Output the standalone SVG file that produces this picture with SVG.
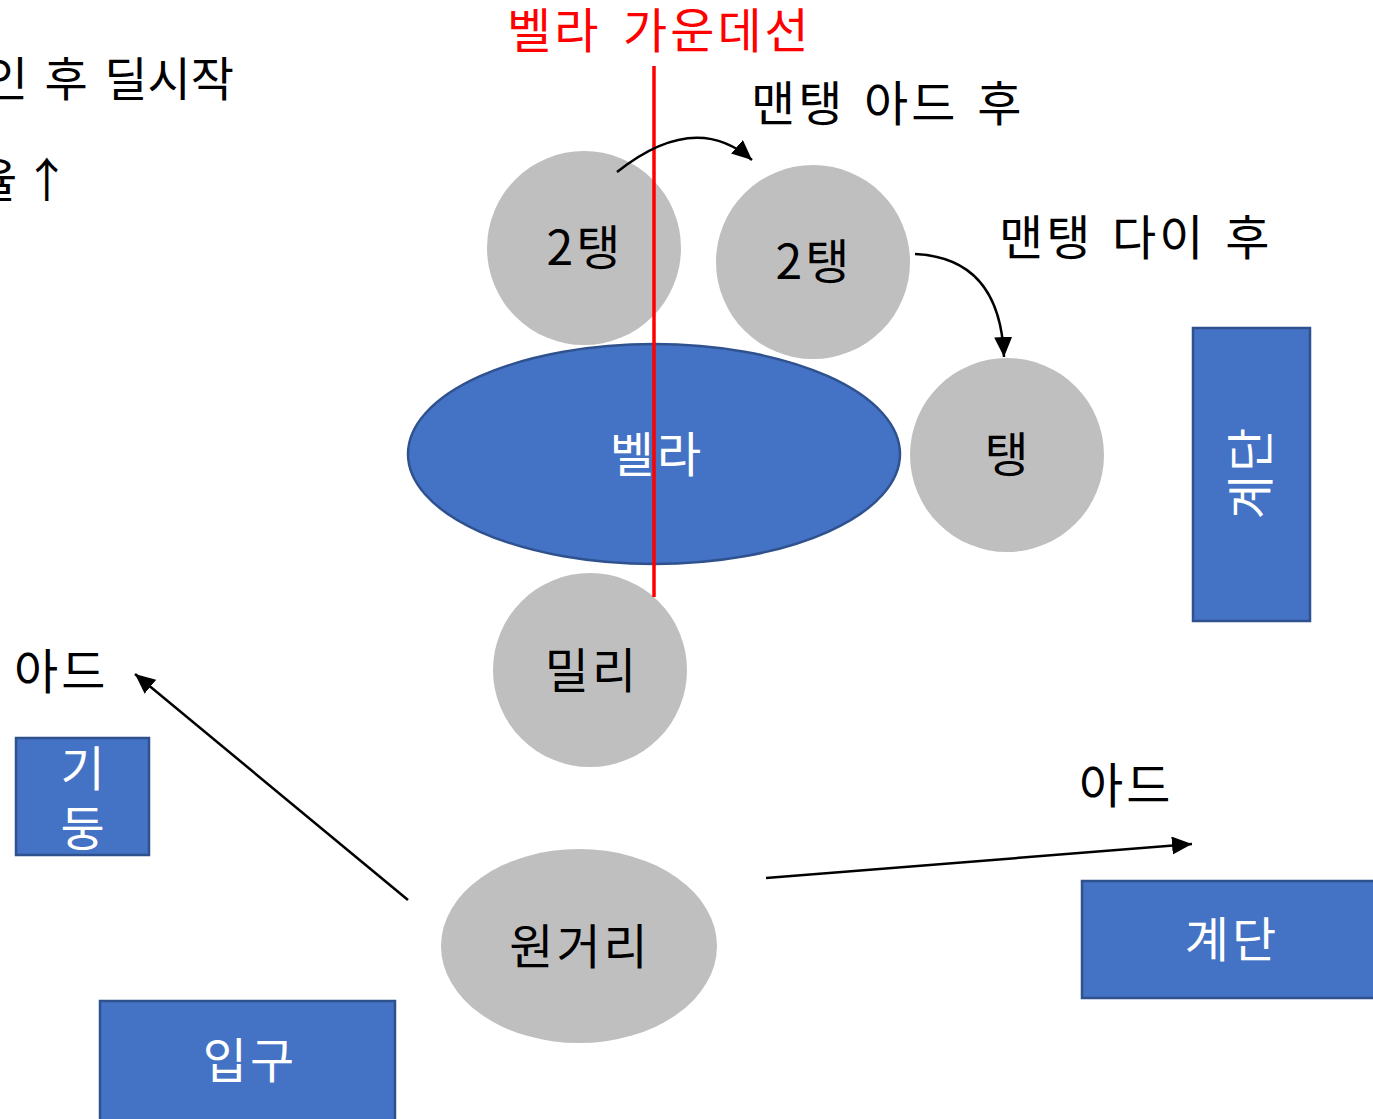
<svg xmlns="http://www.w3.org/2000/svg" width="1373" height="1119" viewBox="0 0 1373 1119">
<style>
text{font-family:"Noto Sans CJK KR","Noto Sans",sans-serif;font-size:48px;letter-spacing:3px;word-spacing:8px}
.t{fill:#000}
.w{fill:#fff}
.c{text-anchor:middle}
.n{font-size:47px;letter-spacing:0;word-spacing:6px}
.grey{fill:#BFBFBF}
.blue{fill:#4472C4;stroke:#2F528F;stroke-width:2.5}
.conn{fill:none;stroke:#000;stroke-width:2.5}
</style>
<defs>
<marker id="ah" markerUnits="userSpaceOnUse" markerWidth="22" markerHeight="18" refX="20" refY="9" orient="auto">
<path d="M0,0 L20,9 L0,18 Z" fill="#000"/>
</marker>
</defs>
<rect width="1373" height="1119" fill="#fff"/>
<g id="notes">
<text class="t n" x="234" y="96" text-anchor="end">인 후 딜시작</text>
<text class="t n" x="-26" y="197">율<tspan dx="6">↑</tspan></text>
<text class="t" x="751" y="121" style="word-spacing:5px">맨탱 아드 후</text>
<text class="t" x="999" y="255" style="word-spacing:5px">맨탱 다이 후</text>
<text class="t" x="14" y="689">아드</text>
<text class="t" x="1079" y="803">아드</text>
</g>
<g id="tank2a"><circle class="grey" cx="584" cy="248" r="97"/><text class="t c" x="585" y="265">2탱</text></g>
<g id="tank2b"><circle class="grey" cx="813" cy="262" r="97"/><text class="t c" x="814" y="279">2탱</text></g>
<g id="bella"><ellipse class="blue" cx="654" cy="454" rx="246" ry="110"/><text class="w c" x="657" y="472">벨라</text></g>
<g id="tank"><circle class="grey" cx="1007" cy="455" r="97"/><text class="t c" x="1008" y="472">탱</text></g>
<g id="milli"><circle class="grey" cx="590" cy="670" r="97"/><text class="t c" x="592" y="688">밀리</text></g>
<g id="ranged"><ellipse class="grey" cx="579" cy="946" rx="138" ry="97"/><text class="t c" x="580" y="964">원거리</text></g>
<g id="pillar"><rect class="blue" x="16" y="738" width="133" height="117"/><text class="w c" x="84" y="786">기</text><text class="w c" x="84" y="846">둥</text></g>
<g id="entrance"><rect class="blue" x="100" y="1001" width="295" height="125"/><text class="w c" x="250" y="1078">입구</text></g>
<g id="stairs1"><rect class="blue" x="1082" y="881" width="300" height="117"/><text class="w c" x="1232" y="957">계단</text></g>
<g id="stairs2"><rect class="blue" x="1193" y="328" width="117" height="293"/><text class="w c" transform="translate(1251 474) rotate(-90)" x="2" y="17">계단</text></g>
<g id="midline">
<line x1="654" y1="66" x2="654" y2="597" stroke="#FF0000" stroke-width="3.5"/>
<text x="507" y="48" fill="#FF0000">벨라 가운데선</text>
</g>
<g id="connectors">
<path class="conn" d="M617,172 Q695,110 752,160" marker-end="url(#ah)"/>
<path class="conn" d="M915,254 Q1000,258 1004,357" marker-end="url(#ah)"/>
<path class="conn" d="M408,900 L135,674" marker-end="url(#ah)"/>
<path class="conn" d="M766,878 L1192,844" marker-end="url(#ah)"/>
</g>
</svg>
